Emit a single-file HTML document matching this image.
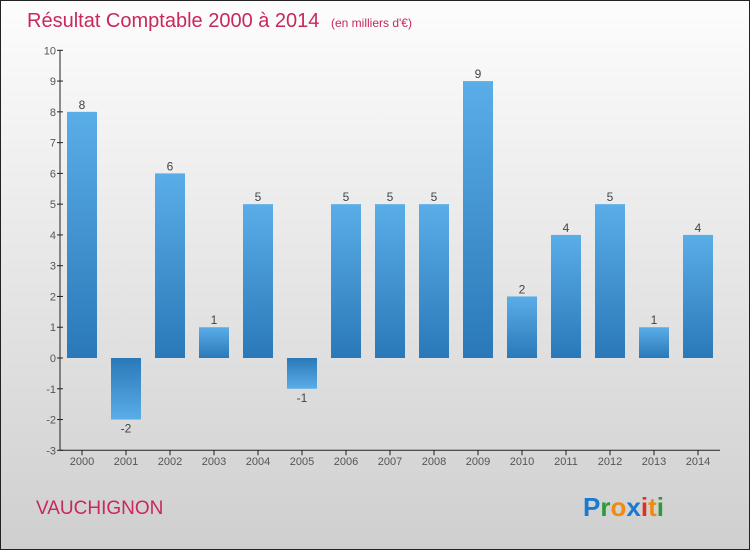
<!DOCTYPE html>
<html><head><meta charset="utf-8"><style>
body{margin:0}
svg{display:block;font-family:"Liberation Sans",sans-serif}
</style></head><body>
<svg id="c" width="750" height="550" xmlns="http://www.w3.org/2000/svg">
<defs>
<linearGradient id="bg" x1="0" y1="0" x2="0" y2="1"><stop offset="0" stop-color="#fdfdfd"/><stop offset="1" stop-color="#cfcfcf"/></linearGradient>
<linearGradient id="bp" x1="0" y1="0" x2="0" y2="1"><stop offset="0" stop-color="#5aaee8"/><stop offset="1" stop-color="#2a78b8"/></linearGradient>
<linearGradient id="bn" x1="0" y1="0" x2="0" y2="1"><stop offset="0" stop-color="#2a78b8"/><stop offset="1" stop-color="#5aaee8"/></linearGradient>
</defs>
<rect x="0.5" y="0.5" width="749" height="549" fill="url(#bg)" stroke="#222"/>
<text x="27" y="27" font-size="20" fill="#c8285a">Résultat Comptable 2000 à 2014 <tspan font-size="12" dx="6">(en milliers d'€)</tspan></text>
<text x="36" y="514" font-size="19" fill="#c8285a">VAUCHIGNON</text>
<text x="583" y="516" font-size="26" font-weight="bold"><tspan fill="#1a7ad0">P</tspan><tspan fill="#2a9a3a">r</tspan><tspan fill="#f08a10">o</tspan><tspan fill="#1a7ad0">x</tspan><tspan fill="#e03020">i</tspan><tspan fill="#f08a10">t</tspan><tspan fill="#2a9a3a">i</tspan></text>
<g id="plot"></g>
</svg>
<script>
const years=["2000","2001","2002","2003","2004","2005","2006","2007","2008","2009","2010","2011","2012","2013","2014"];
const values=[8,-2,6,1,5,-1,5,5,5,9,2,4,5,1,4];
const yTicks=[-3,-2,-1,0,1,2,3,4,5,6,7,8,9,10];
const NS="http://www.w3.org/2000/svg";
const g=document.getElementById('plot');
const y=v=>358-v*30.77;
const x=i=>82+44*i;
function mk(t,a,txt){const e=document.createElementNS(NS,t);for(const k in a)e.setAttribute(k,a[k]);if(txt!==undefined)e.textContent=txt;g.appendChild(e);return e;}
let e=mk('line',{x1:60,y1:y(10),x2:60,y2:y(-3),stroke:'#222'});


e=mk('line',{x1:60,y1:y(-3),x2:720,y2:y(-3),stroke:'#222'});


yTicks.forEach(v=>{
 mk('line',{x1:57,y1:y(v),x2:63,y2:y(v),stroke:'#222'});
 const t=mk('text',{x:56,y:y(v)+4,'text-anchor':'end','font-size':11,fill:'#555'},String(v));
 
 
});
years.forEach((yr,i)=>{
 mk('line',{x1:x(i),y1:y(-3),x2:x(i),y2:y(-3)+5,stroke:'#222'});
 const t=mk('text',{x:x(i),y:465,'text-anchor':'middle','font-size':11,fill:'#555'},yr);
 
 
 const v=values[i];
 const top=Math.min(y(v),y(0)),h=Math.abs(y(v)-y(0));
 const b=mk('rect',{x:x(i)-15,y:top,width:30,height:h,fill:v>=0?'url(#bp)':'url(#bn)'});
 
 
 const l=mk('text',{x:x(i),y:v>=0?y(v)-3:y(v)+13,'text-anchor':'middle','font-size':12,fill:'#444'},String(v));
 
 
});
</script>
</body></html>
